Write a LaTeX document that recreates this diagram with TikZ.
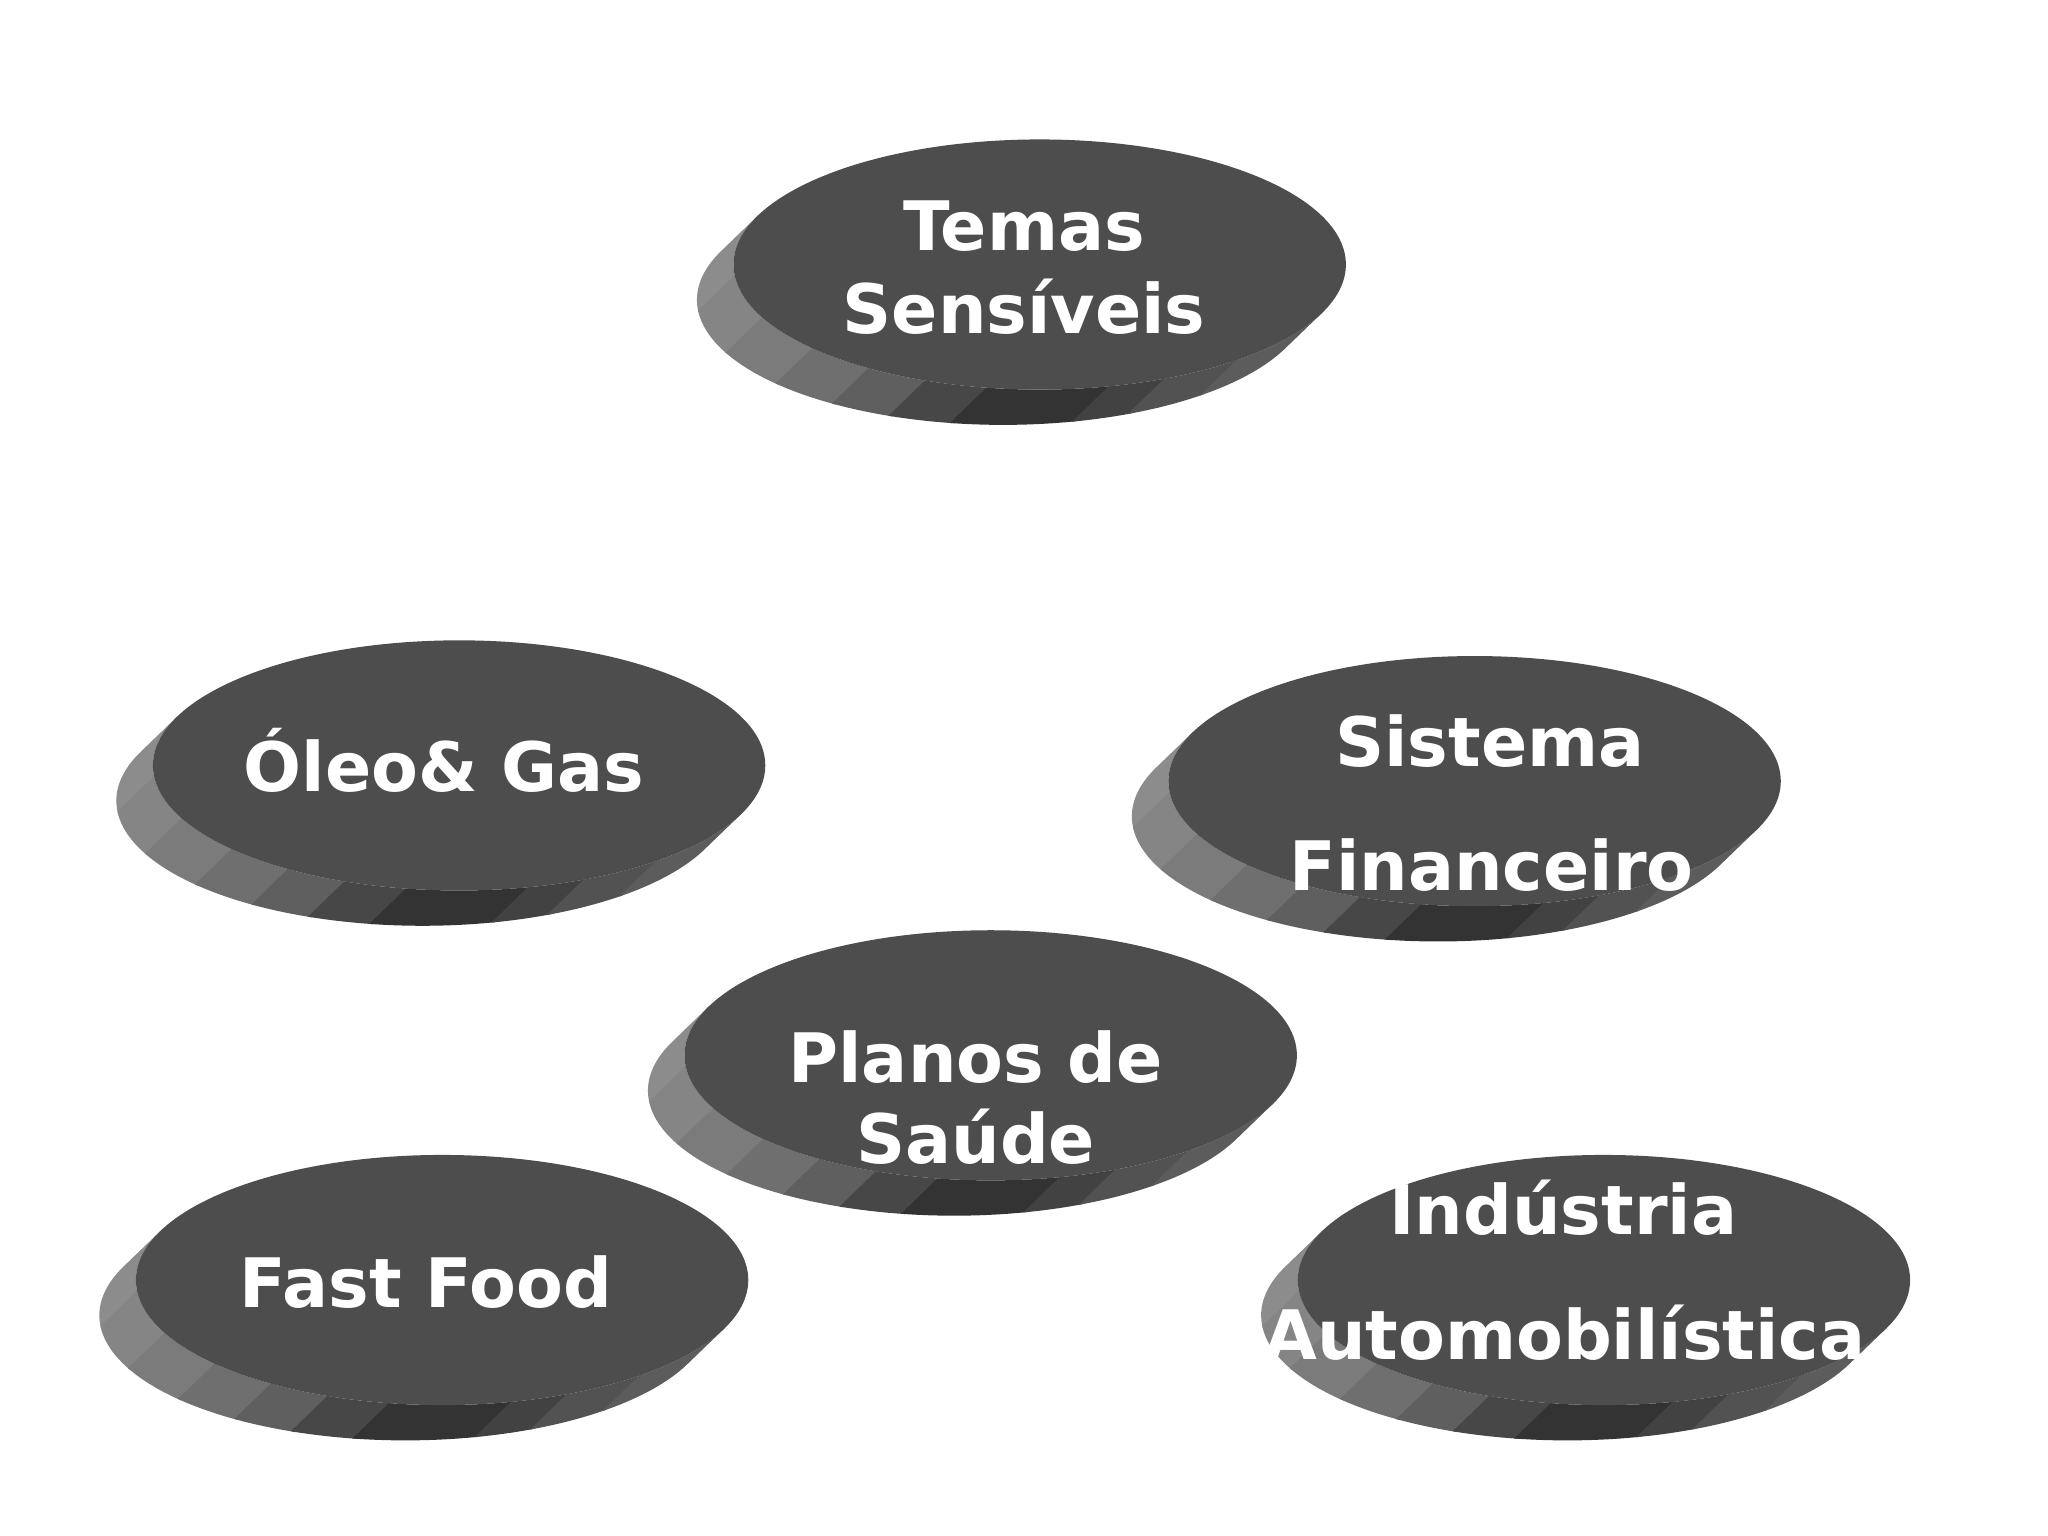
\documentclass[tikz,border=0pt]{standalone}
\usepackage{fontspec}
\newfontfamily\lblfont{DejaVu Sans}
\definecolor{topgray}{HTML}{4D4D4D}
\definecolor{fa}{HTML}{8C8C8C}
\definecolor{fb}{HTML}{858585}
\definecolor{fc}{HTML}{7B7B7B}
\definecolor{fd}{HTML}{6F6F6F}
\definecolor{fe}{HTML}{5F5F5F}
\definecolor{ff}{HTML}{474747}
\definecolor{fg}{HTML}{333333}
\definecolor{fh}{HTML}{424242}
\definecolor{fi}{HTML}{525252}
\definecolor{fj}{HTML}{5C5C5C}
\tikzset{
  disc/.pic={
    \foreach \a/\b/\c in {157/185.8/fa,185/205.8/fb,205/222.8/fc,222/236.8/fd,236/248.8/fe,248/260.8/ff,260/283.8/fg,283/294.8/fh,294/310.8/fi,310/337.5/fj}{
      \fill[\c] (-36.6,-35.3) ++(\a:3.06cm and 1.25cm)
        arc[start angle=\a, end angle=\b, x radius=3.06cm, y radius=1.25cm]
        -- ++(36.6,35.3)
        arc[start angle=\b, end angle=\a, x radius=3.06cm, y radius=1.25cm] -- cycle;
    }
    \fill[topgray] (0,0) ellipse[x radius=3.06cm, y radius=1.25cm];
  },
  lbl/.style={text=white, font=\lblfont\bfseries\fontsize{19.4pt}{23pt}\selectfont, anchor=base, inner sep=0pt}
}
\begin{document}
\begin{tikzpicture}[x=0.01cm,y=0.01cm]
\useasboundingbox[fill=white] (0,0) rectangle (2048,-1536);
\pic (d1) at (1039.7,-264.5) {disc};
\pic (d2) at (459.1,-765.4) {disc};
\pic (d3) at (1474.6,-781.1) {disc};
\pic (d4) at (990.7,-1055.3) {disc};
\pic (d5) at (442.1,-1280) {disc};
\pic (d6) at (1603.9,-1280) {disc};
\node[lbl] (t1a) at (1024,-250.8) {Temas};
\node[lbl] (t1b) at (1024,-333) {Sensíveis};
\node[lbl] (t2) at (444,-791.5) {Óleo\& Gas};
\node[lbl] (t3a) at (1490,-766.7) {Sistema};
\node[lbl] (t3b) at (1491.6,-890.8) {Financeiro};
\node[lbl] (t4a) at (975.7,-1082.8) {Planos de};
\node[lbl] (t4b) at (975.7,-1163.8) {Saúde};
\node[lbl] (t5) at (425.8,-1307.4) {Fast Food};
\node[lbl] (t6a) at (1563.4,-1234.3) {Indústria};
\node[lbl] (t6b) at (1564.7,-1359.7) {Automobilística};
\end{tikzpicture}
\end{document}
